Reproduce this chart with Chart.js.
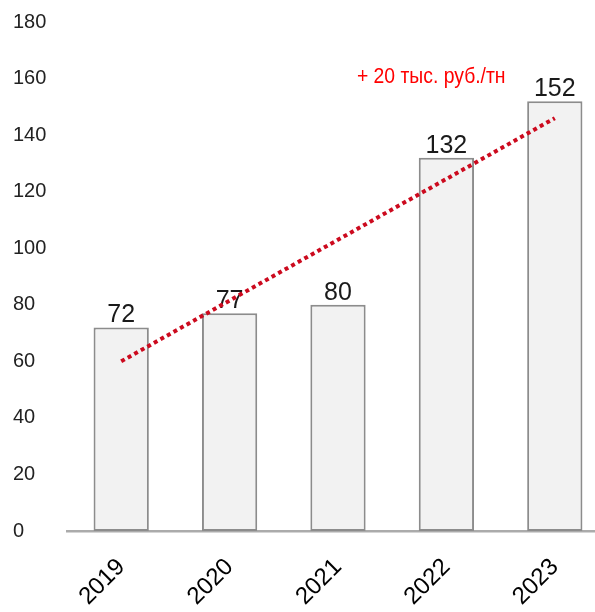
<!DOCTYPE html>
<html>
<head>
<meta charset="utf-8">
<script src="https://cdn.jsdelivr.net/npm/chart.js@4"></script>
<style>
  html, body { margin: 0; padding: 0; background: #fff; overflow: hidden; }
  #wrap { width: 612px; height: 612px; }
</style>
</head>
<body>
<div id="wrap"><canvas id="myChart"></canvas></div>
<script>
var years = ['2019', '2020', '2021', '2022', '2023'];
var prices = [72, 77, 80, 132, 152];
// trend: starts ~60, ends ~146
var trend = [60, null, null, null, 146];
var yTicks = [0, 20, 40, 60, 80, 100, 120, 140, 160, 180];
var note = '+ 20 тыс. руб./тн';

var FONT = "'Liberation Sans', Arial, sans-serif";

// value labels above the bars, drawn before the trend line
var barLabels = {
    id: 'barLabels',
    afterDatasetDraw: function (chart, args) {
        if (args.index !== 1) return;
        var ctx = chart.ctx;
        ctx.save();
        ctx.font = '25px ' + FONT;
        ctx.fillStyle = '#1a1a1a';
        ctx.textAlign = 'center';
        ctx.textBaseline = 'alphabetic';
        args.meta.data.forEach(function (bar, i) {
            ctx.fillText(prices[i], bar.x, bar.y - 5);
        });
        ctx.restore();
    }
};

// red note above the trend (narrow face faked by squeezing)
var noteText = {
    id: 'noteText',
    afterDraw: function (chart) {
        var ctx = chart.ctx;
        var x = chart.scales.x.getPixelForValue(2.86);
        var y = chart.scales.y.getPixelForValue(160.5);
        ctx.save();
        ctx.translate(x, y);
        ctx.scale(0.88, 1);
        ctx.font = '22px ' + FONT;
        ctx.fillStyle = '#ff0000';
        ctx.textAlign = 'center';
        ctx.textBaseline = 'middle';
        ctx.fillText(note, 0, 0);
        ctx.restore();
    }
};

var ctx = document.getElementById('myChart');
var myChart = new Chart(ctx, {
    type: 'bar',
    data: {
        labels: years,
        datasets: [{
            type: 'line',
            data: trend,
            spanGaps: true,
            borderColor: '#cc0a1e',
            borderWidth: 4,
            borderDash: [4, 3.5],
            pointRadius: 0,
            tension: 0,
            fill: false,
        }, {
            data: prices,
            backgroundColor: '#f2f2f2',
            borderColor: '#8c8c8c',
            borderWidth: 2,
            borderSkipped: false,
            barPercentage: 0.51,
            categoryPercentage: 1,
        }],
    },
    options: {
        responsive: true,
        maintainAspectRatio: false,
        animation: false,
        layout: {
            padding: { top: 22, left: 13, right: 3, bottom: 0 },
        },
        plugins: {
            legend: { display: false },
            tooltip: { enabled: false },
        },
        scales: {
            x: {
                grid: { display: false },
                border: { display: true, color: '#ababab', width: 2.5 },
                ticks: {
                    minRotation: 45,
                    maxRotation: 45,
                    padding: 14,
                    color: '#000',
                    font: { family: FONT, size: 24 },
                },
                afterFit: function (scale) { scale.height = 81; },
            },
            y: {
                min: 0,
                max: 180,
                grid: { display: false },
                border: { display: false },
                afterBuildTicks: function (scale) {
                    scale.ticks = yTicks.map(function (v) { return { value: v }; });
                },
                ticks: {
                    crossAlign: 'far',
                    color: '#222',
                    font: { family: FONT, size: 20 },
                },
                afterFit: function (scale) { scale.width = 54; },
            },
        },
    },
    plugins: [barLabels, noteText],
});
</script>
</body>
</html>
